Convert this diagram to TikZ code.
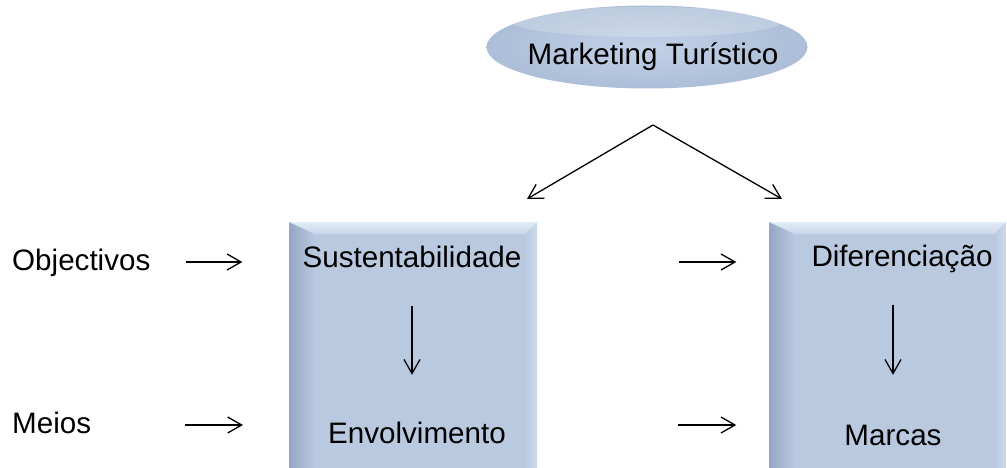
\documentclass[tikz,border=0pt]{standalone}
\usepackage{fontspec}
\setmainfont{Liberation Sans}
\usetikzlibrary{arrows.meta,shapes.geometric}
\definecolor{boxface}{RGB}{185,201,224}
\definecolor{bevdark}{RGB}{148,166,194}
\definecolor{bevtop}{RGB}{226,236,246}
\definecolor{bevright}{RGB}{206,218,235}
\definecolor{mktin}{RGB}{194,209,231}
\definecolor{mktout}{RGB}{172,190,216}
% bevelled box: #1 left x, #2 right x
\newcommand\bevbox[2]{%
  \fill[boxface] (#1,222) rectangle (#2,468);
  \shade[left color=bevdark, right color=boxface] (#1,222) -- ({#1+26},234) -- ({#1+26},468) -- (#1,468) -- cycle;
  \shade[left color=boxface, right color=bevright] (#2,222) -- ({#2-12},234) -- ({#2-12},468) -- (#2,468) -- cycle;
  \shade[top color=bevtop, bottom color=boxface!60!bevtop] (#1,222) -- (#2,222) -- ({#2-12},234) -- ({#1+26},234) -- cycle;
}
\begin{document}
\begin{tikzpicture}[x=1pt,y=-1pt,
  lbl/.style={inner sep=0pt, text height=22pt, text depth=6pt, font=\fontsize{29.6}{34}\selectfont},
  arr/.style={-{Straight Barb[length=14pt,width=16pt]}, line width=1.3pt},
  mkt/.style={ellipse, minimum width=321pt, minimum height=83pt, inner sep=0pt,
    inner color=mktin, outer color=mktout}]
\useasboundingbox (0,0) rectangle (1007,468);
% boxes
\bevbox{289}{537}
\bevbox{769}{1006}
% top
\node[mkt] (mkt) at (647,47) {};
\fill[white, opacity=.22] (647,22) ellipse (135pt and 15pt);
\node[lbl] (mkttxt) at (653,57) {Marketing Turístico};
\coordinate (apex) at (653,125);
\coordinate (tipL) at (527,199);
\coordinate (tipR) at (782,199);
\draw[arr] (apex) -- (tipL);
\draw[arr] (apex) -- (tipR);
% labels
\node[lbl, anchor=base west] (obj) at (12,270) {Objectivos};
\node[lbl, anchor=base west] (meios) at (12,433) {Meios};
\node[lbl, anchor=base] (sust) at (412,267) {Sustentabilidade};
\node[lbl, anchor=base] (env) at (417,443) {Envolvimento};
\node[lbl, anchor=base] (dif) at (902,266) {Diferenciação};
\node[lbl, anchor=base] (marcas) at (893,445) {Marcas};
% arrows
\draw[arr, shorten <=35pt, shorten >=60pt] (obj.east) -- (obj.east -| sust.west);
\draw[arr, shorten <=157pt, shorten >=75pt] (sust.east |- obj.east) -- (obj.east -| dif.west);
\draw[arr, shorten <=94pt, shorten >=85pt] (meios.east) -- (meios.east -| env.west);
\draw[arr, shorten <=172pt, shorten >=108pt] (env.east |- meios.east) -- (meios.east -| marcas.west);
\draw[arr, shorten <=33pt, shorten >=46pt] (sust.south) -- (sust.south |- env.north);
\draw[arr, shorten <=33pt, shorten >=48pt] (dif.south -| marcas) -- (marcas.north);
\end{tikzpicture}
\end{document}
